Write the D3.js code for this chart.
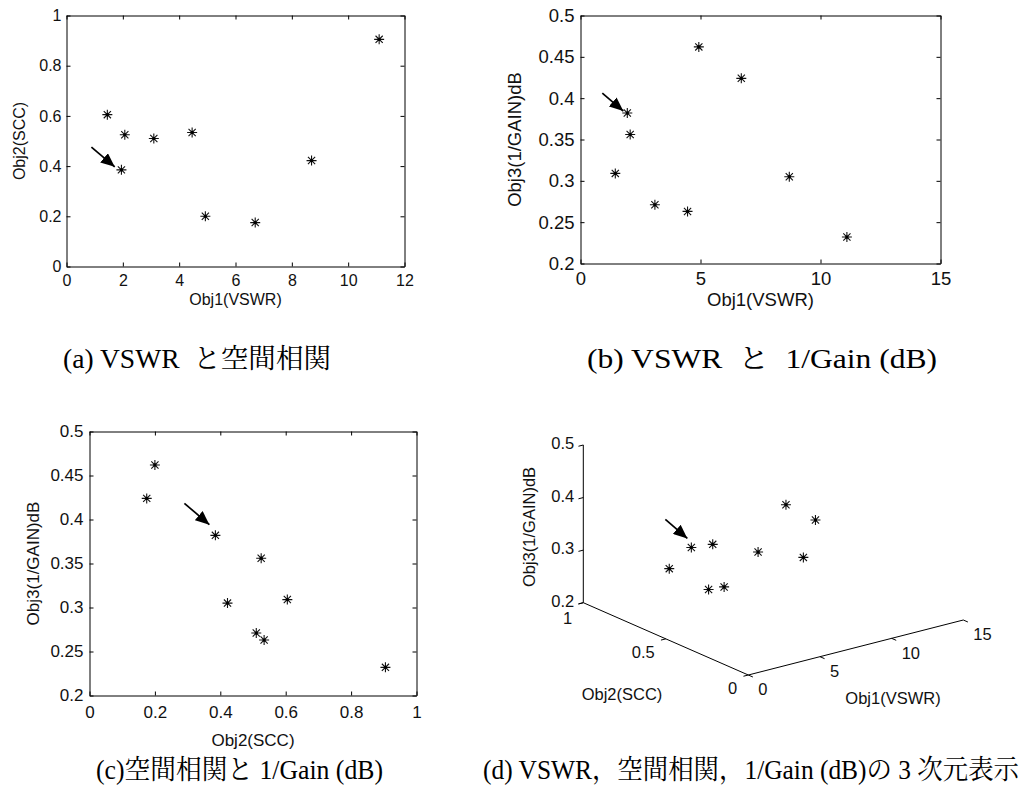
<!DOCTYPE html>
<html>
<head>
<meta charset="utf-8">
<script src="https://cdn.jsdelivr.net/npm/d3@7"></script>
<style>
	body { margin: 0; background: #fff; }
	svg { display: block; }
	.caption { font-family: "Liberation Serif", "Times New Roman", "Noto Serif CJK JP", "Noto Sans CJK JP", serif; white-space: pre; }
</style>
</head>
<body>
<svg id="chart" width="1035" height="794"></svg>
<script>
// objective values of the nine solutions
var vswr = [1.45, 2.07, 1.95, 3.1, 4.46, 4.93, 6.7, 8.7, 11.1];
var scc = [0.605, 0.525, 0.385, 0.51, 0.534, 0.2, 0.175, 0.422, 0.905];
var invGain = [0.309, 0.356, 0.382, 0.271, 0.263, 0.462, 0.424, 0.305, 0.232];

// tick values
var vswrTicks12 = [0, 2, 4, 6, 8, 10, 12];
var vswrTicks15 = [0, 5, 10, 15];
var sccTicks = [0, 0.2, 0.4, 0.6, 0.8, 1];
var gainTicks = [0.2, 0.25, 0.3, 0.35, 0.4, 0.45, 0.5];
var gainTicks3d = [0.2, 0.3, 0.4, 0.5];
var sccTicks3d = [0, 0.5, 1];

var captions = [
	"(a) VSWR  と空間相関",
	"(b) VSWR  と  1/Gain (dB)",
	"(c)空間相関と 1/Gain (dB)",
	"(d) VSWR，空間相関，1/Gain (dB)の 3 次元表示"
];

const svg = d3.select("#chart");
const sansFont = '"Liberation Sans", Arial, Helvetica, sans-serif';
const fmt = d => String(d);
const starPath = "M-5,0H5M0,-5V5M-3.6,-3.6L3.6,3.6M-3.6,3.6L3.6,-3.6";

// arrow head
svg.append("defs").append("marker")
	.attr("id", "head")
	.attr("markerUnits", "userSpaceOnUse")
	.attr("markerWidth", 15)
	.attr("markerHeight", 12)
	.attr("refX", 14)
	.attr("refY", 6)
	.attr("orient", "auto")
	.append("path")
	.attr("d", "M0,0L14,6L0,12Z")
	.attr("fill", "#000");

function drawStars(g, pts) {
	const star = g.selectAll(null)
		.data(pts)
		.join("g")
		.attr("transform", d => `translate(${d[0]},${d[1]})`);
	star.append("path")
		.attr("d", starPath)
		.attr("stroke", "#111")
		.attr("stroke-width", 1.1)
		.attr("fill", "none");
	star.append("circle")
		.attr("r", 1.6)
		.attr("fill", "#000");
}

function drawArrow(g, pt, tail, tip) {
	g.append("line")
		.attr("x1", pt[0] + tail[0])
		.attr("y1", pt[1] + tail[1])
		.attr("x2", pt[0] + tip[0])
		.attr("y2", pt[1] + tip[1])
		.attr("stroke", "#000")
		.attr("stroke-width", 1.7)
		.attr("marker-end", "url(#head)");
}

// 2d panels
const panels = [
	{
		box: { l: 66.5, r: 404.5, t: 15.5, b: 266.5 },
		xs: vswr, ys: scc, xDomain: [0, 12], yDomain: [0, 1],
		xTicks: vswrTicks12, yTicks: sccTicks, font: 16, xPad: 8.6, yPad: 5,
		xLabel: "Obj1(VSWR)", xLabelY: 305, yLabel: "Obj2(SCC)", yLabelX: 25,
		arrow: { i: 2, tail: [-30, -22.7], tip: [-6.7, -3] }
	},
	{
		box: { l: 580.5, r: 940.5, t: 15.5, b: 263.5 },
		xs: vswr, ys: invGain, xDomain: [0, 15], yDomain: [0.2, 0.5],
		xTicks: vswrTicks15, yTicks: gainTicks, font: 18.5, xPad: 8.6, yPad: 6,
		xLabel: "Obj1(VSWR)", xLabelY: 306, yLabel: "Obj3(1/GAIN)dB", yLabelX: 521,
		arrow: { i: 2, tail: [-25, -20], tip: [-4, -2] }
	},
	{
		box: { l: 89.5, r: 416.5, t: 431.5, b: 695.5 },
		xs: scc, ys: invGain, xDomain: [0, 1], yDomain: [0.2, 0.5],
		xTicks: sccTicks, yTicks: gainTicks, font: 17, xPad: 10.4, yPad: 6,
		xLabel: "Obj2(SCC)", xLabelY: 746, yLabel: "Obj3(1/GAIN)dB", yLabelX: 38.5,
		arrow: { i: 2, tail: [-31, -32], tip: [-6, -10.7] }
	}
];

panels.forEach(p => {
	const x = d3.scaleLinear(p.xDomain, [p.box.l, p.box.r]);
	const y = d3.scaleLinear(p.yDomain, [p.box.b, p.box.t]);
	const g = svg.append("g");

	const axes = [
		[d3.axisBottom(x).tickValues(p.xTicks).tickFormat(fmt).tickPadding(p.xPad), `translate(0,${p.box.b})`],
		[d3.axisTop(x).tickValues(p.xTicks).tickFormat(""), `translate(0,${p.box.t})`],
		[d3.axisLeft(y).tickValues(p.yTicks).tickFormat(fmt).tickPadding(p.yPad), `translate(${p.box.l},0)`],
		[d3.axisRight(y).tickValues(p.yTicks).tickFormat(""), `translate(${p.box.r},0)`]
	];
	axes.forEach(([axis, tr]) => {
		g.append("g")
			.attr("transform", tr)
			.call(axis.tickSizeInner(-4).tickSizeOuter(0))
			.attr("font-family", sansFont)
			.attr("font-size", p.font)
			.call(a => a.selectAll("text").attr("fill", "#111"))
			.call(a => a.selectAll("path, line").attr("stroke", "#000"));
	});

	g.append("text")
		.attr("x", (p.box.l + p.box.r) / 2)
		.attr("y", p.xLabelY)
		.attr("text-anchor", "middle")
		.attr("font-family", sansFont)
		.attr("font-size", p.font)
		.attr("fill", "#111")
		.text(p.xLabel);
	g.append("text")
		.attr("transform", `translate(${p.yLabelX},${(p.box.t + p.box.b) / 2}) rotate(-90)`)
		.attr("text-anchor", "middle")
		.attr("font-family", sansFont)
		.attr("font-size", p.font)
		.attr("fill", "#111")
		.text(p.yLabel);

	const pts = p.xs.map((v, i) => [x(v), y(p.ys[i])]);
	drawStars(g, pts);
	drawArrow(g, pts[p.arrow.i], p.arrow.tail, p.arrow.tip);
});

// 3d panel (orthographic projection)
const o3 = { x: 748.3, y: 675 };
const vX = d3.scaleLinear([0, 15], [0, 215]);
const vY = d3.scaleLinear([0, 15], [0, -55]);
const sX = d3.scaleLinear([0, 1], [0, -165]);
const sY = d3.scaleLinear([0, 1], [0, -72.3]);
const zY = d3.scaleLinear([0.2, 0.5], [0, -157.7]);
const proj = (v, s, z) => [o3.x + vX(v) + sX(s), o3.y + vY(v) + sY(s) + zY(z)];

const g3 = svg.append("g")
	.attr("font-family", sansFont)
	.attr("font-size", 16.5)
	.attr("fill", "#111");
const line3 = d3.line();
const tickLen = 5;
const vDir = [0.969, -0.248];
const sDir = [0.916, 0.401];

g3.append("path")
	.attr("d", line3([proj(0, 1, 0.2), proj(0, 0, 0.2), proj(15, 0, 0.2)]))
	.attr("stroke", "#000").attr("fill", "none");
g3.append("path")
	.attr("d", line3([proj(0, 1, 0.2), proj(0, 1, 0.5)]))
	.attr("stroke", "#000").attr("fill", "none");

// vswr ticks
vswrTicks15.forEach(v => {
	const p = proj(v, 0, 0.2);
	g3.append("line")
		.attr("x1", p[0]).attr("y1", p[1])
		.attr("x2", p[0] + sDir[0] * tickLen).attr("y2", p[1] + sDir[1] * tickLen)
		.attr("stroke", "#000");
	g3.append("text")
		.attr("x", p[0] + 10).attr("y", p[1] + 15)
		.attr("dy", "0.32em")
		.text(fmt(v));
});
// scc ticks
sccTicks3d.forEach(s => {
	const p = proj(0, s, 0.2);
	g3.append("line")
		.attr("x1", p[0]).attr("y1", p[1])
		.attr("x2", p[0] - vDir[0] * tickLen).attr("y2", p[1] - vDir[1] * tickLen)
		.attr("stroke", "#000");
	g3.append("text")
		.attr("x", p[0] - 11).attr("y", p[1] + (s === 1 ? 16 : 14))
		.attr("dy", "0.32em")
		.attr("text-anchor", "end")
		.text(fmt(s));
});
// gain ticks
gainTicks3d.forEach(z => {
	const p = proj(0, 1, z);
	g3.append("line")
		.attr("x1", p[0]).attr("y1", p[1])
		.attr("x2", p[0] - vDir[0] * tickLen).attr("y2", p[1] - vDir[1] * tickLen)
		.attr("stroke", "#000");
	g3.append("text")
		.attr("x", p[0] - 9).attr("y", p[1] - 1)
		.attr("dy", "0.32em")
		.attr("text-anchor", "end")
		.text(fmt(z));
});

g3.append("text").attr("x", 622).attr("y", 700).attr("text-anchor", "middle").text("Obj2(SCC)");
g3.append("text").attr("x", 893).attr("y", 704).attr("text-anchor", "middle").text("Obj1(VSWR)");
g3.append("text")
	.attr("transform", "translate(535,527) rotate(-90)")
	.attr("text-anchor", "middle")
	.text("Obj3(1/GAIN)dB");

const pts3 = vswr.map((v, i) => proj(v, scc[i], invGain[i]));
drawStars(g3, pts3);
drawArrow(g3, pts3[1], [-26, -28], [-4, -9]);

// captions
const capPos = [[63, 368, 268], [587, 368, 350], [96, 779, 287], [483, 779, 536]];
svg.selectAll("text.caption")
	.data(captions)
	.join("text")
	.attr("class", "caption")
	.attr("x", (d, i) => capPos[i][0])
	.attr("y", (d, i) => capPos[i][1])
	.attr("textLength", (d, i) => capPos[i][2])
	.attr("lengthAdjust", "spacingAndGlyphs")
	.attr("font-size", 27)
	.attr("fill", "#000")
	.text(d => d);
</script>
</body>
</html>
